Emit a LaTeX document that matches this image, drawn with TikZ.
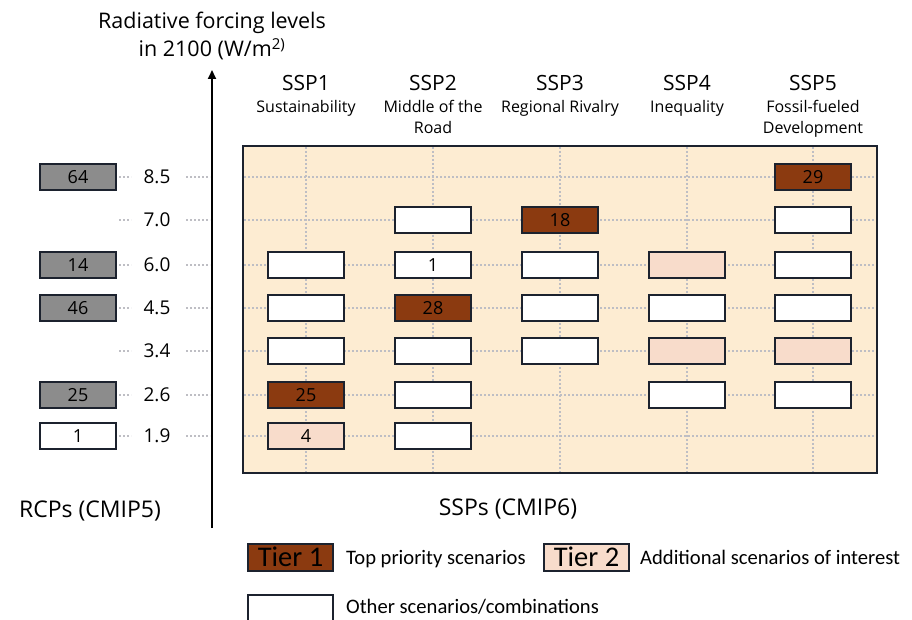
\documentclass[tikz,border=0pt]{standalone}
\usepackage{fontspec}
\setmainfont{Open Sans}
\newfontfamily\narrowfont{Carlito}
\usetikzlibrary{arrows.meta}
\definecolor{rust}{RGB}{139, 58, 16}
\definecolor{peach}{RGB}{248, 220, 203}
\definecolor{sand}{RGB}{253, 236, 210}
\definecolor{slate}{RGB}{28, 34, 46}
\definecolor{ash}{RGB}{140, 140, 140}
\definecolor{dotgray}{RGB}{190, 190, 196}

\tikzset{
    scen/.style     = {draw=slate, line width=2pt, minimum width=76pt, minimum height=26pt,
                       inner sep=0pt, font=\fontsize{18}{18}\selectfont},
    tierone/.style  = {scen, fill=rust},
    tiertwo/.style  = {scen, fill=peach},
    other/.style    = {scen, fill=white},
    rcpbox/.style   = {scen, fill=ash},
    gridline/.style = {dotgray, line width=2pt, dash pattern=on 2pt off 2pt},
    level/.style    = {font=\fontsize{19}{19}\selectfont},
    ssphead/.style  = {anchor=base, font=\fontsize{21}{21}\selectfont},
    sspsub/.style   = {anchor=base, font=\fontsize{16}{16}\selectfont},
    bigtext/.style  = {anchor=base, font=\fontsize{23}{23}\selectfont},
    legbox/.style   = {minimum width=85pt, minimum height=27pt, font=\narrowfont\fontsize{28.5}{28.5}\selectfont},
    legtext/.style  = {anchor=base west, inner sep=0pt, font=\narrowfont\fontsize{20.6}{20.6}\selectfont},
}

\begin{document}
\begin{tikzpicture}[x=1pt, y=-1pt]
            \clip (0,0) rectangle (912,620);
            \fill[white] (0,0) rectangle (912,620);

            % title and forcing axis
            \node[anchor=base, font=\fontsize{21.5}{21.5}\selectfont] (title1) at (212, 29) {Radiative forcing levels};
            \node[anchor=base, font=\fontsize{21.5}{21.5}\selectfont] (title2) at (212, 57) {in 2100 (W/m\textsuperscript{2)}};
            \coordinate (axisbot) at (212,528);
            \coordinate (axistop) at (212, 70);
            \draw[black, line width=2pt, -{Triangle[length=9pt, width=8pt]}] (axisbot) -- (axistop);

            % SSP panel with its dotted grid
            \fill[sand]                                   (243,146) rectangle (877,473);
            \foreach \x in {306, 433, 560, 687, 813}
                \draw[gridline] (\x,147) -- (\x,472);
            \foreach \y in {177, 220, 265, 308, 351, 395, 436} {
                \draw[gridline] (244,\y) -- (876,\y);
                \draw[gridline] (186,\y) -- (210,\y);
                \draw[gridline] (119,\y) -- (131,\y);
            }
            \draw[slate, line width=2pt]                  (243,146) rectangle (877,473);

            % forcing levels
            \node[level] (lv85) at (157,177) {8.5};
            \node[level] (lv70) at (157,220) {7.0};
            \node[level] (lv60) at (157,265) {6.0};
            \node[level] (lv45) at (157,308) {4.5};
            \node[level] (lv34) at (157,351) {3.4};
            \node[level] (lv26) at (157,395) {2.6};
            \node[level] (lv19) at (157,436) {1.9};

            % RCPs
            \node[rcpbox] (rcp85) at (78,177) {64};
            \node[rcpbox] (rcp60) at (78,265) {14};
            \node[rcpbox] (rcp45) at (78,308) {46};
            \node[rcpbox] (rcp26) at (78,395) {25};
            \node[other]  (rcp19) at (78,436) {1};

            % SSP headers
            \node[ssphead] (ssp1) at (306, 91) {SSP1};
            \node[ssphead] (ssp2) at (433, 91) {SSP2};
            \node[ssphead] (ssp3) at (560, 91) {SSP3};
            \node[ssphead] (ssp4) at (687, 91) {SSP4};
            \node[ssphead] (ssp5) at (813, 91) {SSP5};
            \node[sspsub]  (sub1)  at (306,113) {Sustainability};
            \node[sspsub]  (sub2)  at (433,113) {Middle of the};
            \node[sspsub]  (sub2b) at (433,134) {Road};
            \node[sspsub]  (sub3)  at (560,113) {Regional Rivalry};
            \node[sspsub]  (sub4)  at (687,113) {Inequality};
            \node[sspsub]  (sub5)  at (813,113) {Fossil-fueled};
            \node[sspsub]  (sub5b) at (813,134) {Development};

            % SSP1
            \node[other]   (s1r60) at (306,265) {};
            \node[other]   (s1r45) at (306,308) {};
            \node[other]   (s1r34) at (306,351) {};
            \node[tierone] (s1r26) at (306,395) {25};
            \node[tiertwo] (s1r19) at (306,436) {4};
            % SSP2
            \node[other]   (s2r70) at (433,220) {};
            \node[other]   (s2r60) at (433,265) {1};
            \node[tierone] (s2r45) at (433,308) {28};
            \node[other]   (s2r34) at (433,351) {};
            \node[other]   (s2r26) at (433,395) {};
            \node[other]   (s2r19) at (433,436) {};
            % SSP3
            \node[tierone] (s3r70) at (560,220) {18};
            \node[other]   (s3r60) at (560,265) {};
            \node[other]   (s3r45) at (560,308) {};
            \node[other]   (s3r34) at (560,351) {};
            % SSP4
            \node[tiertwo] (s4r60) at (687,265) {};
            \node[other]   (s4r45) at (687,308) {};
            \node[tiertwo] (s4r34) at (687,351) {};
            \node[other]   (s4r26) at (687,395) {};
            % SSP5
            \node[tierone] (s5r85) at (813,177) {29};
            \node[other]   (s5r70) at (813,220) {};
            \node[other]   (s5r60) at (813,265) {};
            \node[other]   (s5r45) at (813,308) {};
            \node[tiertwo] (s5r34) at (813,351) {};
            \node[other]   (s5r26) at (813,395) {};

            \node[bigtext] (rcplabel) at ( 90,517) {RCPs (CMIP5)};
            \node[bigtext] (ssplabel) at (508,515) {SSPs (CMIP6)};

            % legend
            \node[tierone, legbox] (legone) at (290.5,557.5) {\raisebox{0pt}[18pt][0pt]{Tier 1}};
            \node[legtext] (legonetxt) at (346,564) {Top priority scenarios};
            \node[tiertwo, legbox] (legtwo) at (586.5,557.5) {\raisebox{0pt}[18pt][0pt]{Tier 2}};
            \node[legtext] (legtwotxt) at (640,564) {Additional scenarios of interest};
            \node[other, legbox] (legoth) at (290.5,608.5) {};
            \node[legtext] (legothtxt) at (346,613) {Other scenarios/combinations};
\end{tikzpicture}
\end{document}
